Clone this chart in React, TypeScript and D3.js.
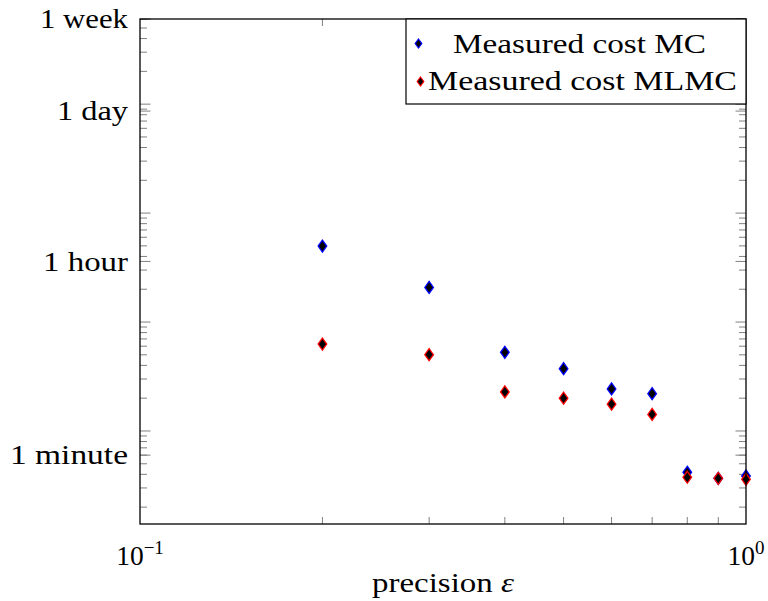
import React from "react";
import * as d3 from "d3";

const precision = [0.2, 0.3, 0.4, 0.5, 0.6, 0.7, 0.8, 0.9, 1.0];
const costMC = [4980, 2080, 527, 373, 243, 220, 41.8, 36.8, 38.7];
const costMLMC = [628, 501, 228, 200, 176, 142, 37.6, 36.8, 36.0];
const yLabelTicks = [60, 3600, 86400, 604800];
const yLabelTexts = ["1 minute", "1 hour", "1 day", "1 week"];
const yLabelWidths = [118, 85, 71, 88];
const xLabelTicks = [0.1, 1];
const xLabelExps = ["\u22121", "0"];
const seriesNames = ["Measured cost MC", "Measured cost MLMC"];
const seriesColors = ["#0000ff", "#ff0000"];

const W = 768, H = 601;
const L = 140, R = 746, T = 19, B = 524;
const FONT = "'Liberation Serif', serif";
const FS = 27.5;

function diamond(cx: number, cy: number, hw: number, hh: number) {
  return `M${cx},${cy - hh}L${cx + hw},${cy}L${cx},${cy + hh}L${cx - hw},${cy}Z`;
}

export default function App() {
  const x = d3.scaleLog().domain([0.1, 1]).range([L, R]);
  const y = d3.scaleLog().domain([14, 604800]).range([B, T]);

  const yMinor: number[] = [];
  const yMajor: number[] = [];
  for (let k = 1; k <= 5; k++) {
    for (let m = 1; m <= 9; m++) {
      const v = m * Math.pow(10, k);
      if (v < 14 || v > 604800) continue;
      if (m === 1) yMajor.push(v); else yMinor.push(v);
    }
  }
  const xMinor: number[] = [];
  for (let m = 2; m <= 9; m++) xMinor.push(m / 10);

  const minorLen = 7, majorLen = 10.5;
  const tickStroke = "#808080";

  const series = [costMC, costMLMC];

  return (
    <svg width={W} height={H} style={{ position: "absolute", left: 0, top: 0, background: "#fff" }}
      fontFamily={FONT}>
      <rect x={0} y={0} width={W} height={H} fill="#fff" />
      {yMinor.map((v, i) => (
        <g key={"ym" + i} stroke={tickStroke} strokeWidth={1}>
          <line x1={L} x2={L + minorLen} y1={y(v)} y2={y(v)} />
          <line x1={R} x2={R - minorLen} y1={y(v)} y2={y(v)} />
        </g>
      ))}
      {[...yMajor, ...yLabelTicks].map((v, i) => (
        <g key={"yM" + i} stroke={tickStroke} strokeWidth={1}>
          <line x1={L} x2={L + majorLen} y1={y(v)} y2={y(v)} />
          <line x1={R} x2={R - majorLen} y1={y(v)} y2={y(v)} />
        </g>
      ))}
      {xMinor.map((v, i) => (
        <g key={"xm" + i} stroke={tickStroke} strokeWidth={1}>
          <line x1={x(v)} x2={x(v)} y1={B} y2={B - minorLen} />
          <line x1={x(v)} x2={x(v)} y1={T} y2={T + minorLen} />
        </g>
      ))}
      {series.map((vals, si) => (
        <g key={"s" + si}>
          {vals.map((v, i) => (
            <path key={i} d={diamond(x(precision[i]), y(v), 4.3, 6)} fill="#000"
              stroke={seriesColors[si]} strokeWidth={1.3} />
          ))}
        </g>
      ))}
      <rect x={L} y={T} width={R - L} height={B - T} fill="none" stroke="#000" strokeWidth={1.3} />
      {yLabelTicks.map((v, i) => (
        <text key={"yl" + i} x={128 - yLabelWidths[i]} y={y(v)} dy="0.34em" fontSize={FS} fill="#000"
          textLength={yLabelWidths[i]} lengthAdjust="spacingAndGlyphs">
          {yLabelTexts[i]}
        </text>
      ))}
      {xLabelTicks.map((v, i) => (
        <text key={"xl" + i} x={x(v)} y={565} textAnchor="middle" fontSize={FS} fill="#000">
          10<tspan dy={-11} fontSize={19}>{xLabelExps[i]}</tspan>
        </text>
      ))}
      <text x={372} y={592} fontSize={FS} fill="#000" textLength={142} lengthAdjust="spacingAndGlyphs">
        precision <tspan fontStyle="italic">ε</tspan>
      </text>
      <rect x={406} y={T} width={R - 406} height={104 - T} fill="#fff" stroke="#000" strokeWidth={1.2} />
      <path d={diamond(418.5, 43.5, 3.3, 4.5)} fill="#000" stroke={seriesColors[0]} strokeWidth={1.2} />
      <path d={diamond(420.5, 81.5, 3.3, 4.5)} fill="#000" stroke={seriesColors[1]} strokeWidth={1.2} />
      <text x={453} y={52.5} fontSize={FS} fill="#000" textLength={253} lengthAdjust="spacingAndGlyphs">
        {seriesNames[0]}
      </text>
      <text x={428} y={90} fontSize={FS} fill="#000" textLength={309} lengthAdjust="spacingAndGlyphs">
        {seriesNames[1]}
      </text>
    </svg>
  );
}
